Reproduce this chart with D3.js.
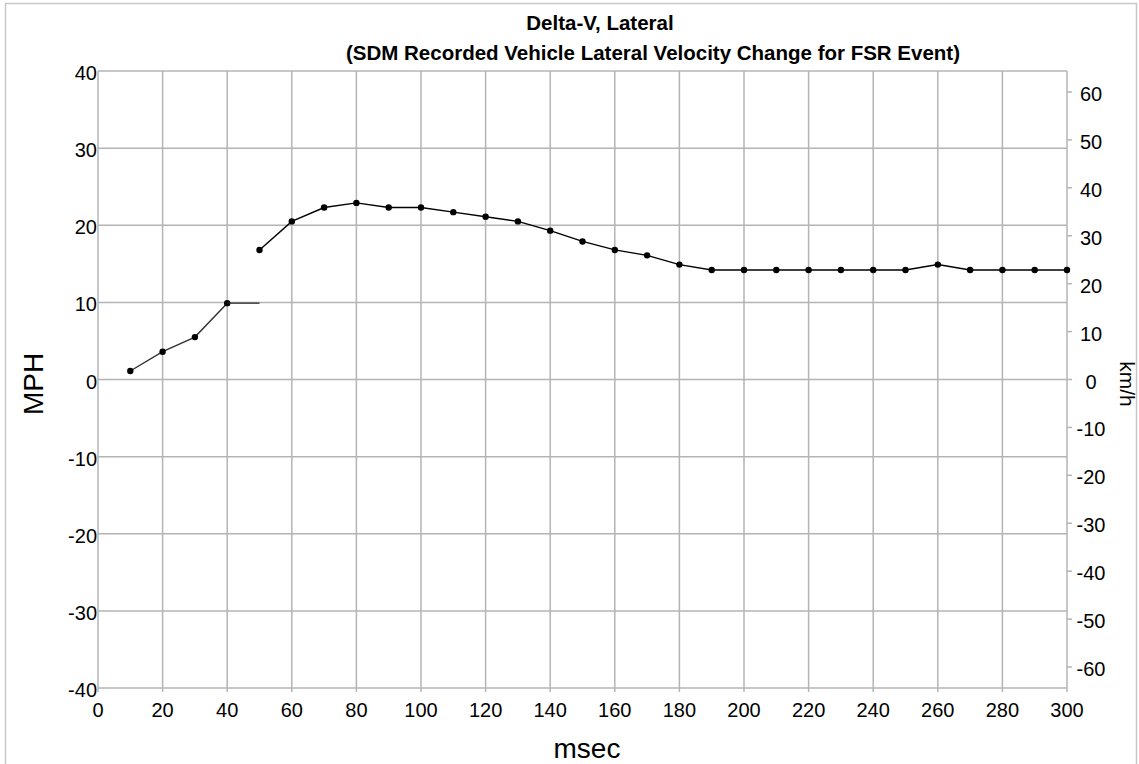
<!DOCTYPE html>
<html>
<head>
<meta charset="utf-8">
<script src="https://cdn.jsdelivr.net/npm/d3@7"></script>
<style>
  body { margin: 0; background: #fff; }
  text { font-family: "Liberation Sans", Arial, sans-serif; fill: #000; }
</style>
</head>
<body>
<svg width="1139" height="764"></svg>
<script>
// data (MPH)
var earlyMsec = [10, 20, 30, 40];
var earlyMph = [1.1, 3.6, 5.5, 9.9];
var holdMsec = [40, 50];          // flat tail after the first run, no markers
var holdMph = [9.9, 9.9];
var lateMsec = [50, 60, 70, 80, 90, 100, 110, 120, 130, 140, 150, 160, 170, 180, 190, 200,
                210, 220, 230, 240, 250, 260, 270, 280, 290, 300];
var lateMph = [16.8, 20.5, 22.3, 22.9, 22.3, 22.3, 21.7, 21.1, 20.5, 19.3, 17.9, 16.8, 16.1, 14.9, 14.2, 14.2,
               14.2, 14.2, 14.2, 14.2, 14.2, 14.9, 14.2, 14.2, 14.2, 14.2];
var xTicks = d3.range(0, 301, 20);
var mphTicks = [-40, -30, -20, -10, 0, 10, 20, 30, 40];
var kmhTicks = [-60, -50, -40, -30, -20, -10, 0, 10, 20, 30, 40, 50, 60];

var svg = d3.select("svg");
var plotL = 98, plotR = 1067, plotT = 71, plotB = 688;

var x = d3.scaleLinear().domain([0, 300]).range([plotL, plotR]);
var y = d3.scaleLinear().domain([-40, 40]).range([plotB, plotT]);
var kmhPerMph = 1.609344;

// outer frame
svg.append("rect").attr("x", 5.5).attr("y", 3.5).attr("width", 1131).attr("height", 780)
  .attr("fill", "none").attr("stroke", "#c8c8c8").attr("stroke-width", 1.5);

// grid
var grid = svg.append("g").attr("stroke", "#b4b4b4").attr("stroke-width", 1.5);
grid.selectAll(".gx").data(xTicks).enter().append("line")
  .attr("x1", function(d) { return x(d); }).attr("x2", function(d) { return x(d); })
  .attr("y1", plotT).attr("y2", plotB + 4);
grid.selectAll(".gy").data(mphTicks).enter().append("line")
  .attr("x1", plotL).attr("x2", plotR)
  .attr("y1", function(d) { return y(d); }).attr("y2", function(d) { return y(d); });
// right-axis ticks
grid.selectAll(".gk").data(kmhTicks).enter().append("line")
  .attr("x1", plotR).attr("x2", plotR + 5)
  .attr("y1", function(d) { return y(d / kmhPerMph); }).attr("y2", function(d) { return y(d / kmhPerMph); });

// tick labels
svg.selectAll(".xl").data(xTicks).enter().append("text")
  .attr("x", function(d) { return x(d); }).attr("y", 717)
  .attr("text-anchor", "middle").style("font-size", "20px").text(function(d) { return d; });
svg.selectAll(".yl").data(mphTicks).enter().append("text")
  .attr("x", 97).attr("y", function(d) { return y(d) + 9; })
  .attr("text-anchor", "end").style("font-size", "20px").text(function(d) { return d; });
svg.selectAll(".kl").data(kmhTicks).enter().append("text")
  .attr("x", 1091).attr("y", function(d) { return y(d / kmhPerMph) + 9; })
  .attr("text-anchor", "middle").style("font-size", "20px").text(function(d) { return d; });

// axis titles
svg.append("text").attr("x", 587).attr("y", 758).attr("text-anchor", "middle")
  .style("font-size", "28px").text("msec");
svg.append("text").attr("transform", "translate(43,384) rotate(-90)").attr("text-anchor", "middle")
  .style("font-size", "28px").text("MPH");
svg.append("text").attr("transform", "translate(1120,384) rotate(90)").attr("text-anchor", "middle")
  .style("font-size", "21px").text("km/h");

// title
svg.append("text").attr("x", 600).attr("y", 30).attr("text-anchor", "middle")
  .style("font-size", "20.5px").style("font-weight", "bold").text("Delta-V, Lateral");
svg.append("text").attr("x", 653).attr("y", 60).attr("text-anchor", "middle")
  .style("font-size", "20.5px").style("font-weight", "bold")
  .text("(SDM Recorded Vehicle Lateral Velocity Change for FSR Event)");

// series
var line = d3.line().x(function(d) { return x(d[0]); }).y(function(d) { return y(d[1]); });
function drawSeries(ms, v, color, dots) {
  var pts = d3.zip(ms, v);
  svg.append("path").datum(pts).attr("d", line)
    .attr("fill", "none").attr("stroke", color).attr("stroke-width", 1.4);
  if (dots) {
    svg.append("g").selectAll("circle").data(pts).enter().append("circle")
      .attr("cx", function(d) { return x(d[0]); }).attr("cy", function(d) { return y(d[1]); })
      .attr("r", 3.2).attr("fill", "#000");
  }
}
drawSeries(earlyMsec, earlyMph, "#333", true);
drawSeries(holdMsec, holdMph, "#222", false);
drawSeries(lateMsec, lateMph, "#000", true);
</script>
</body>
</html>
